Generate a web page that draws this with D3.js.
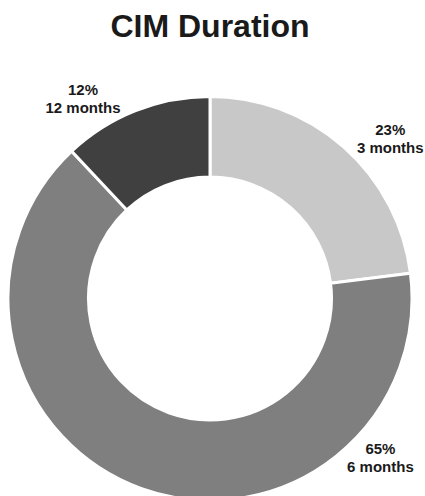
<!DOCTYPE html>
<html>
<head>
<meta charset="utf-8">
<script src="https://cdn.jsdelivr.net/npm/d3@7"></script>
<style>
  body { margin: 0; background: #fff; }
  svg { display: block; font-family: "Liberation Sans", Arial, sans-serif; }
</style>
</head>
<body>
<svg id="chart" width="425" height="496"></svg>
<script>
let categories = ['3 months', '6 months', '12 months'];
let shares = [23, 65, 12];
let colors = ['#c8c8c8', '#7f7f7f', '#404040'];
let title = 'CIM Duration';

// where each label sits around the ring (degrees clockwise from top, radius)
let labelSpots = [[48.4, 241], [133.0, 233], [327.6, 237]];

let svg = d3.select('#chart');
let width = +svg.attr('width');

let cx = 210, cy = 298.5;
let outer = 202, inner = 121.5;

svg.append('text')
  .attr('x', width/2 - 2.5)
  .attr('y', 37)
  .attr('text-anchor', 'middle')
  .attr('font-size', 32)
  .attr('font-weight', 'bold')
  .attr('fill', '#1a1a1a')
  .text(title);

let data = categories.map((c,i) => ({name: c, value: shares[i]}));

let pie = d3.pie()
  .value(d => d.value)
  .sort(null);

let arc = d3.arc()
  .innerRadius(inner)
  .outerRadius(outer);

let g = svg.append('g')
  .attr('transform', `translate(${cx},${cy})`);

g.selectAll('.slice')
  .data(pie(data))
  .enter()
  .append('path')
  .attr('class', 'slice')
  .attr('d', arc)
  .attr('fill', (_,i) => colors[i])
  .attr('stroke', '#fff')
  .attr('stroke-width', 3);

let labels = g.selectAll('.label')
  .data(pie(data))
  .enter()
  .append('text')
  .attr('class', 'label')
  .attr('transform', (d,i) => {
    let a = labelSpots[i][0] * Math.PI/180;
    let r = labelSpots[i][1];
    let p = d3.arc().innerRadius(r).outerRadius(r).startAngle(a).endAngle(a).centroid();
    return `translate(${p[0]},${p[1]})`;
  })
  .attr('text-anchor', 'middle')
  .attr('font-size', 15)
  .attr('font-weight', 'bold')
  .attr('fill', '#1a1a1a');

labels.append('tspan')
  .attr('x', 0)
  .attr('y', -3.5)
  .text(d => d.data.value + '%');

labels.append('tspan')
  .attr('x', 0)
  .attr('y', 14.5)
  .text(d => d.data.name);
</script>
</body>
</html>
